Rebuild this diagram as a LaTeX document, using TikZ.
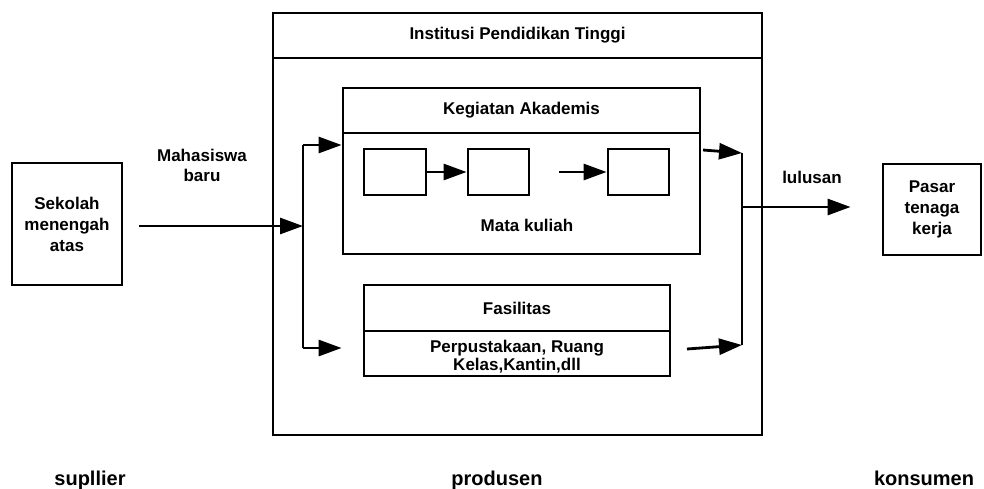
\documentclass[tikz,border=0pt]{standalone}
\usepackage{fontspec}
\setmainfont{Liberation Sans}
\usetikzlibrary{arrows.meta}

\tikzset{
  lbl/.style={font=\fontsize{17}{21}\selectfont\bfseries, align=center, inner sep=0pt},
  box/.style={draw, line width=2.8pt, inner sep=0pt, rectangle},
  wire/.style={line width=2.8pt},
  arr/.style={line width=2.8pt, -{Triangle[length=23pt,width=16pt]}},
  role/.style={font=\fontsize{20}{24}\selectfont\bfseries, anchor=base, inner sep=0pt}
}

\begin{document}
\begin{tikzpicture}[x=1pt, y=-1pt]
\useasboundingbox (0,0) rectangle (984,488);

% supplier side
\node[box, lbl, minimum width=110pt, minimum height=122pt] (sma) at (67,224)
  {Sekolah\\menengah\\atas};
\node[lbl, font=\fontsize{17}{20}\selectfont\bfseries] (maba) at (202,165) {Mahasiswa\\baru};

% the institution
\node[box, minimum width=489pt, minimum height=422pt] (ipt) at (517.5,224) {};
\node[box, lbl, minimum width=489pt, minimum height=45pt] (ipttitle) at (517.5,35.5)
  {Institusi Pendidikan Tinggi};

% academic activities
\node[box, minimum width=357pt, minimum height=166pt] (keg) at (521.5,171) {};
\node[box, lbl, minimum width=357pt, minimum height=45pt] (kegtitle) at (521.5,110.5)
  {Kegiatan Akademis};
\node[box, minimum width=62pt, minimum height=46pt] (mk1) at (395,172) {};
\node[box, minimum width=61pt, minimum height=46pt] (mk2) at (498.5,172) {};
\node[box, minimum width=61pt, minimum height=46pt] (mk3) at (638.5,172) {};
\node[lbl] (mk) at (527,225) {Mata kuliah};

% facilities
\node[box, minimum width=306pt, minimum height=91pt] (fas) at (517,330.5) {};
\node[box, lbl, minimum width=306pt, minimum height=46pt] (fastitle) at (517,308) {Fasilitas};
\node[lbl] (fasisi) at (517,357)
  {Perpustakaan, Ruang\\[-3pt]Kelas,Kantin,dll};

% consumer side
\node[box, lbl, minimum width=98pt, minimum height=91pt] (pasar) at (932,209.5)
  {Pasar\\tenaga\\kerja};
\node[lbl] (lulusan) at (812,177) {lulusan};

% roles
\node[role] (supplier) at (90,485) {supllier};
\node[role] (produsen) at (497,485) {produsen};
\node[role] (konsumen) at (924,485) {konsumen};

% junction points of the flow lines
\coordinate (dtop) at (303,145);
\coordinate (dmid) at (303,226);
\coordinate (dbot) at (303,348);
\coordinate (gap) at (559,172);
\coordinate (kout) at (703,150);
\coordinate (fout) at (687,349);
\coordinate (ctop) at (742,153);
\coordinate (cmid) at (742,207);
\coordinate (cbot) at (742,345);

% incoming students split to both activities
\draw[arr, shorten <=16pt] (sma.east |- dmid) -- (dmid);
\draw[wire] (dtop) -- (dbot);
\draw[arr] (dtop) -- (dtop -| keg.west);
\draw[arr] (dbot) -- (dbot -| keg.west);

% course sequence
\draw[arr] (mk1) -- (mk2);
\draw[arr] (gap) -- (mk3);

% outputs collected into graduates
\draw[arr] (kout) -- (ctop);
\draw[arr] (fout) -- (cbot);
\draw[wire] (ctop) -- (cbot);
\draw[arr, shorten >=31pt] (cmid) -- (cmid -| pasar.west);
\end{tikzpicture}
\end{document}
